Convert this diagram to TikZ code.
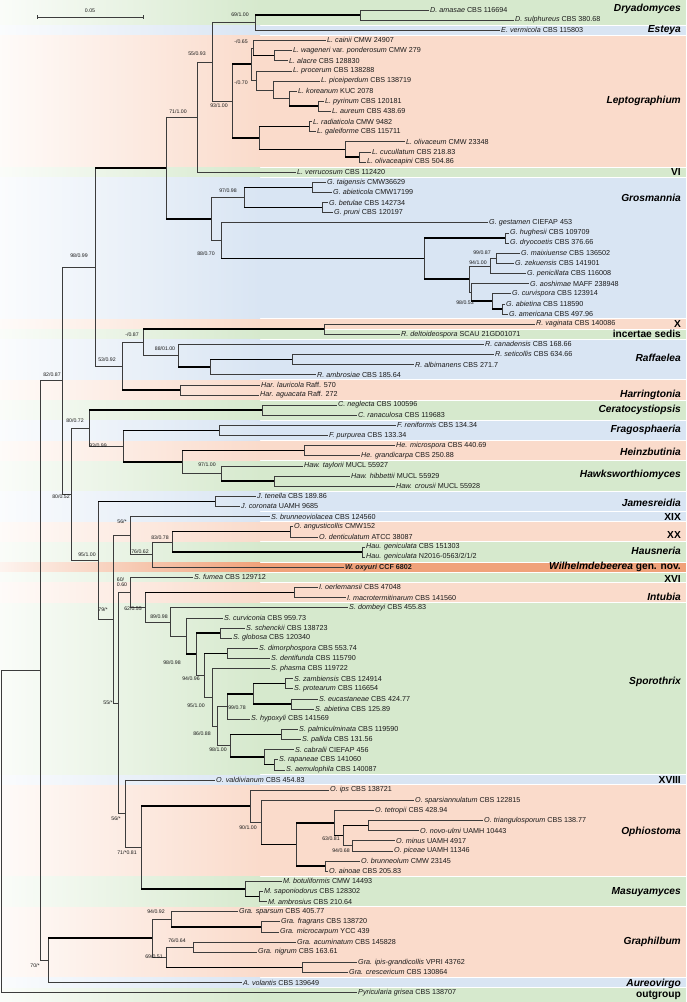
\documentclass[tikz,border=0pt]{standalone}
\usepackage{fontspec}
\setmainfont{Liberation Sans}
\usetikzlibrary{calc}
\definecolor{BandGreen}{HTML}{D6E9CD}
\definecolor{BandBlue}{HTML}{D9E5F3}
\definecolor{BandSalmon}{HTML}{FADBCB}
\definecolor{BandOrange}{HTML}{F0A27A}
\definecolor{Branch}{HTML}{3C3C3C}
\definecolor{Ink}{HTML}{1A1A1A}

% tip: name, row, x of tip, label
\newcommand\leaf[4]{%
  \coordinate (#1) at (#3,{10+10.13*#2});
  \node[tiplab] (#1-t) at (#1) {#4};}
% internal node: name, x, upper child, lower child, style of upper and lower branch
\newcommand\clade[6]{%
  \path let \p1=(#3), \p2=(#4) in coordinate (#1) at ({#2pt},{0.5*(\y1)+0.5*(\y2)});
  \draw[br] (#3 -| #1) -- (#4 -| #1);
  \draw[br,#5] (#3 -| #1) -- (#3);
  \draw[br,#6] (#4 -| #1) -- (#4);}
% coloured band: first row, last row, colour
\newcommand\band[3]{%
  \pgfmathsetmacro\bandtop{#1==0 ? 0 : 15.565+10.13*(#1-1)}%
  \pgfmathsetmacro\bandbot{#2==97 ? 1002 : 14.565+10.13*#2}%
  \shade[left color=#3!12!white, right color=#3] (0,\bandtop) rectangle (260,\bandbot);
  \fill[#3] (259.5,\bandtop) rectangle (686,\bandbot);}

\begin{document}
\begin{tikzpicture}[x=1pt,y=-1pt,
  br/.style={draw=Branch, line width=0.5pt},
  hb/.style={draw=black, line width=1.5pt},
  tiplab/.style={anchor=west, inner sep=1pt, text=Ink, font=\fontsize{7.2}{8}\selectfont},
  suplab/.style={inner sep=0pt, text=Ink, font=\fontsize{5.2}{5.6}\selectfont},
  genlab/.style={anchor=east, inner sep=0pt, text=black, font=\fontsize{10.2}{11}\selectfont\bfseries\itshape},
  romlab/.style={anchor=east, inner sep=0pt, text=black, font=\fontsize{10.2}{11}\selectfont\bfseries}]
\useasboundingbox (0,0) rectangle (686,1002);
\fill[white] (0,0) rectangle (686,1002);

% bands
\band{0}{1}{BandGreen}
\band{2}{2}{BandBlue}
\band{3}{15}{BandSalmon}
\band{16}{16}{BandGreen}
\band{17}{30}{BandBlue}
\band{31}{31}{BandSalmon}
\band{32}{32}{BandGreen}
\band{33}{36}{BandBlue}
\band{37}{38}{BandSalmon}
\band{39}{40}{BandGreen}
\band{41}{42}{BandBlue}
\band{43}{44}{BandSalmon}
\band{45}{47}{BandGreen}
\band{48}{49}{BandBlue}
\band{50}{50}{BandBlue}
\band{51}{52}{BandSalmon}
\band{53}{54}{BandGreen}
\band{55}{55}{BandOrange}
\band{56}{56}{BandGreen}
\band{57}{58}{BandSalmon}
\band{59}{75}{BandGreen}
\band{76}{76}{BandBlue}
\band{77}{85}{BandSalmon}
\band{86}{88}{BandGreen}
\band{89}{95}{BandSalmon}
\band{96}{96}{BandBlue}
\band{97}{97}{BandGreen}

% scale bar
\coordinate (sbL) at (37,17);
\coordinate (sbR) at (143,17);
\draw[br] (sbL) -- (sbR);
\draw[br] ($(sbL)+(0,-2)$) -- ($(sbL)+(0,2)$);
\draw[br] ($(sbR)+(0,-2)$) -- ($(sbR)+(0,2)$);
\node[suplab] (sbLab) at ($(sbL)!0.5!(sbR)+(0,-6)$) {0.05};

% tips
\leaf{amasae}{0}{429}{\textit{D. amasae} CBS 116694}
\leaf{sulphureus}{1}{514}{\textit{D. sulphureus} CBS 380.68}
\leaf{vermicola}{2}{500}{\textit{E. vermicola} CBS 115803}
\leaf{cainii}{3}{326}{\textit{L. cainii} CMW 24907}
\leaf{wageneri}{4}{292}{\textit{L. wageneri} var. \textit{ponderosum} CMW 279}
\leaf{alacre}{5}{288}{\textit{L. alacre} CBS 128830}
\leaf{procerum}{6}{292}{\textit{L. procerum} CBS 138288}
\leaf{piceiperdum}{7}{320}{\textit{L. piceiperdum} CBS 138719}
\leaf{koreanum}{8}{297}{\textit{L. koreanum} KUC 2078}
\leaf{pyrinum}{9}{324}{\textit{L. pyrinum} CBS 120181}
\leaf{aureum}{10}{331}{\textit{L. aureum} CBS 438.69}
\leaf{radiaticola}{11}{312}{\textit{L. radiaticola} CMW 9482}
\leaf{galeiforme}{12}{316}{\textit{L. galeiforme} CBS 115711}
\leaf{olivaceum}{13}{405}{\textit{L. olivaceum} CMW 23348}
\leaf{cucullatum}{14}{371}{\textit{L. cucullatum} CBS 218.83}
\leaf{olivaceapini}{15}{366}{\textit{L. olivaceapini} CBS 504.86}
\leaf{verrucosum}{16}{296}{\textit{L. verrucosum} CBS 112420}
\leaf{taigensis}{17}{326}{\textit{G. taigensis} CMW36629}
\leaf{abieticola}{18}{332}{\textit{G. abieticola} CMW17199}
\leaf{betulae}{19}{328}{\textit{G. betulae} CBS 142734}
\leaf{pruni}{20}{333}{\textit{G. pruni} CBS 120197}
\leaf{gestamen}{21}{488}{\textit{G. gestamen} CIEFAP 453}
\leaf{hughesii}{22}{509}{\textit{G. hughesii} CBS 109709}
\leaf{dryocoetis}{23}{509}{\textit{G. dryocoetis} CBS 376.66}
\leaf{maixiuense}{24}{520}{\textit{G. maixiuense} CBS 136502}
\leaf{zekuensis}{25}{514}{\textit{G. zekuensis} CBS 141901}
\leaf{penicillata}{26}{526}{\textit{G. penicillata} CBS 116008}
\leaf{aoshimae}{27}{529}{\textit{G. aoshimae} MAFF 238948}
\leaf{curvispora}{28}{511}{\textit{G. curvispora} CBS 123914}
\leaf{abietinaG}{29}{505}{\textit{G. abietina} CBS 118590}
\leaf{americana}{30}{508}{\textit{G. americana} CBS 497.96}
\leaf{vaginata}{31}{535}{\textit{R. vaginata} CBS 140086}
\leaf{deltoideospora}{32}{400}{\textit{R. deltoideospora} SCAU 21GD01071}
\leaf{canadensis}{33}{484}{\textit{R. canadensis} CBS 168.66}
\leaf{seticollis}{34}{494}{\textit{R. seticollis} CBS 634.66}
\leaf{albimanens}{35}{414}{\textit{R. albimanens} CBS 271.7}
\leaf{ambrosiae}{36}{316}{\textit{R. ambrosiae} CBS 185.64}
\leaf{lauricola}{37}{260}{\textit{Har. lauricola} Raff. 570}
\leaf{aguacata}{38}{259}{\textit{Har. aguacata} Raff. 272}
\leaf{neglecta}{39}{337}{\textit{C. neglecta} CBS 100596}
\leaf{ranaculosa}{40}{357}{\textit{C. ranaculosa} CBS 119683}
\leaf{reniformis}{41}{396}{\textit{F. reniformis} CBS 134.34}
\leaf{purpurea}{42}{328}{\textit{F. purpurea} CBS 133.34}
\leaf{microspora}{43}{395}{\textit{He. microspora} CBS 440.69}
\leaf{grandicarpa}{44}{360}{\textit{He. grandicarpa} CBS 250.88}
\leaf{taylorii}{45}{303}{\textit{Haw. taylorii} MUCL 55927}
\leaf{hibbettii}{46}{350}{\textit{Haw. hibbettii} MUCL 55929}
\leaf{crousii}{47}{395}{\textit{Haw. crousii} MUCL 55928}
\leaf{tenella}{48}{256}{\textit{J. tenella} CBS 189.86}
\leaf{coronata}{49}{240}{\textit{J. coronata} UAMH 9685}
\leaf{brunneoviolacea}{50}{270}{\textit{S. brunneoviolacea} CBS 124560}
\leaf{angusticollis}{51}{293}{\textit{O. angusticollis} CMW152}
\leaf{denticulatum}{52}{318}{\textit{O. denticulatum} ATCC 38087}
\leaf{genicA}{53}{365}{\textit{Hau. geniculata} CBS 151303}
\leaf{genicB}{54}{365}{\textit{Hau. geniculata} N2016-0563/2/1/2}
\leaf{oxyuri}{55}{344}{\bfseries\textit{W. oxyuri} CCF 6802}
\leaf{fumea}{56}{193}{\textit{S. fumea} CBS 129712}
\leaf{oerlemansii}{57}{318}{\textit{I. oerlemansii} CBS 47048}
\leaf{macrotermitinarum}{58}{346}{\textit{I. macrotermitinarum} CBS 141560}
\leaf{dombeyi}{59}{348}{\textit{S. dombeyi} CBS 455.83}
\leaf{curviconia}{60}{223}{\textit{S. curviconia} CBS 959.73}
\leaf{schenckii}{61}{245}{\textit{S. schenckii} CBS 138723}
\leaf{globosa}{62}{232}{\textit{S. globosa} CBS 120340}
\leaf{dimorphospora}{63}{258}{\textit{S. dimorphospora} CBS 553.74}
\leaf{dentifunda}{64}{270}{\textit{S. dentifunda} CBS 115790}
\leaf{phasma}{65}{270}{\textit{S. phasma} CBS 119722}
\leaf{zambiensis}{66}{293}{\textit{S. zambiensis} CBS 124914}
\leaf{protearum}{67}{293}{\textit{S. protearum} CBS 116654}
\leaf{eucastaneae}{68}{318}{\textit{S. eucastaneae} CBS 424.77}
\leaf{abietinaS}{69}{314}{\textit{S. abietina} CBS 125.89}
\leaf{hypoxyli}{70}{250}{\textit{S. hypoxyli} CBS 141569}
\leaf{palmiculminata}{71}{298}{\textit{S. palmiculminata} CBS 119590}
\leaf{pallida}{72}{301}{\textit{S. pallida} CBS 131.56}
\leaf{cabralii}{73}{294}{\textit{S. cabralii} CIEFAP 456}
\leaf{rapaneae}{74}{278}{\textit{S. rapaneae} CBS 141060}
\leaf{aemulophila}{75}{285}{\textit{S. aemulophila} CBS 140087}
\leaf{valdivianum}{76}{215}{\textit{O. valdivianum} CBS 454.83}
\leaf{ips}{77}{329}{\textit{O. ips} CBS 138721}
\leaf{sparsiannulatum}{78}{414}{\textit{O. sparsiannulatum} CBS 122815}
\leaf{tetropii}{79}{374}{\textit{O. tetropii} CBS 428.94}
\leaf{triangulosporum}{80}{483}{\textit{O. triangulosporum} CBS 138.77}
\leaf{novoulmi}{81}{419}{\textit{O. novo-ulmi} UAMH 10443}
\leaf{minus}{82}{395}{\textit{O. minus} UAMH 4917}
\leaf{piceae}{83}{393}{\textit{O. piceae} UAMH 11346}
\leaf{brunneolum}{84}{360}{\textit{O. brunneolum} CMW 23145}
\leaf{ainoae}{85}{328}{\textit{O. ainoae} CBS 205.83}
\leaf{botuliformis}{86}{282}{\textit{M. botuliformis} CMW 14493}
\leaf{saponiodorus}{87}{263}{\textit{M. saponiodorus} CBS 128302}
\leaf{ambrosius}{88}{267}{\textit{M. ambrosius} CBS 210.64}
\leaf{sparsum}{89}{238}{\textit{Gra. sparsum} CBS 405.77}
\leaf{fragrans}{90}{280}{\textit{Gra. fragrans} CBS 138720}
\leaf{microcarpum}{91}{279}{\textit{Gra. microcarpum} YCC 439}
\leaf{acuminatum}{92}{296}{\textit{Gra. acuminatum} CBS 145828}
\leaf{nigrum}{93}{257}{\textit{Gra. nigrum} CBS 163.61}
\leaf{ipisgrand}{94}{357}{\textit{Gra. ipis-grandicollis} VPRI 43762}
\leaf{crescericum}{95}{348}{\textit{Gra. crescericum} CBS 130864}
\leaf{volantis}{96}{242}{\textit{A. volantis} CBS 139649}
\leaf{grisea}{97}{357}{\textit{Pyricularia grisea} CBS 138707}

% Dryadomyces, Esteya, Leptographium
\clade{nD}{360}{amasae}{sulphureus}{}{}
\clade{nDE}{255}{nD}{vermicola}{hb}{}
\clade{nLwa}{274}{wageneri}{alacre}{}{}
\clade{nLca}{253}{cainii}{nLwa}{}{hb}
\clade{nLpa}{318}{pyrinum}{aureum}{}{}
\clade{nLko}{289}{koreanum}{nLpa}{}{hb}
\clade{nLpi}{273}{piceiperdum}{nLko}{}{}
\clade{nLpr}{256}{procerum}{nLpi}{}{}
\clade{nLq}{251}{nLca}{nLpr}{}{}
\clade{nLra}{309}{radiaticola}{galeiforme}{}{}
\clade{nLcu}{359}{cucullatum}{olivaceapini}{}{}
\clade{nLol}{345}{olivaceum}{nLcu}{}{hb}
\clade{nLrg}{259}{nLra}{nLol}{hb}{hb}
\clade{nLep}{232}{nLq}{nLrg}{hb}{hb}
\clade{nDL}{212}{nDE}{nLep}{}{}
\clade{nDLV}{197}{nDL}{verrucosum}{}{}
% Grosmannia
\clade{nGta}{312}{taigensis}{abieticola}{}{}
\clade{nGbe}{322}{betulae}{pruni}{}{}
\clade{nGa}{244}{nGta}{nGbe}{hb}{hb}
\clade{nGhu}{505}{hughesii}{dryocoetis}{}{}
\clade{nGma}{496}{maixiuense}{zekuensis}{}{}
\clade{nGpe}{490}{nGma}{penicillata}{}{}
\clade{nGab}{502}{abietinaG}{americana}{}{}
\clade{nGcu}{492}{curvispora}{nGab}{}{hb}
\clade{nGao}{471}{aoshimae}{nGcu}{}{hb}
\clade{nGmx}{469}{nGpe}{nGao}{}{}
\clade{nGhd}{424}{nGhu}{nGmx}{hb}{hb}
\clade{nGb}{221}{gestamen}{nGhd}{}{hb}
\clade{nGro}{211}{nGa}{nGb}{}{}
\clade{nLG}{166}{nDLV}{nGro}{}{hb}
% Raffaelea, Harringtonia
\clade{nRva}{324}{vaginata}{deltoideospora}{}{}
\clade{nRse}{292}{seticollis}{albimanens}{}{}
\clade{nRsa}{210}{nRse}{ambrosiae}{hb}{}
\clade{nRaf}{178}{canadensis}{nRsa}{}{hb}
\clade{nRall}{143}{nRva}{nRaf}{hb}{}
\clade{nHar}{180}{lauricola}{aguacata}{}{}
\clade{nRH}{122}{nRall}{nHar}{}{hb}
\clade{nUp}{95}{nLG}{nRH}{hb}{}
% Ceratocystiopsis to Hawksworthiomyces
\clade{nCer}{262}{neglecta}{ranaculosa}{}{}
\clade{nFra}{219}{reniformis}{purpurea}{}{}
\clade{nHei}{304}{microspora}{grandicarpa}{}{}
\clade{nHhc}{274}{hibbettii}{crousii}{}{}
\clade{nHaw}{221}{taylorii}{nHhc}{}{hb}
\clade{nHH}{182}{nHei}{nHaw}{hb}{}
\clade{nFHH}{123}{nFra}{nHH}{hb}{hb}
\clade{nCFH}{89}{nCer}{nFHH}{hb}{}
% Jamesreidia to Hausneria
\clade{nJam}{215}{tenella}{coronata}{}{}
\clade{nXX}{290}{angusticollis}{denticulatum}{}{}
\clade{nHau}{362}{genicA}{genicB}{}{}
\clade{nXXH}{172}{nXX}{nHau}{hb}{hb}
\clade{nWil}{152}{nXXH}{oxyuri}{}{}
\clade{nXIX}{130}{brunneoviolacea}{nWil}{}{}
% Intubia, Sporothrix
\clade{nInt}{294}{oerlemansii}{macrotermitinarum}{}{}
\clade{nSsg}{220}{schenckii}{globosa}{}{}
\clade{nSdd}{227}{dimorphospora}{dentifunda}{}{}
\clade{nSzp}{285}{zambiensis}{protearum}{}{}
\clade{nSea}{291}{eucastaneae}{abietinaS}{}{}
\clade{nSze}{253}{nSzp}{nSea}{hb}{hb}
\clade{nShy}{227}{nSze}{hypoxyli}{hb}{}
\clade{nSpp}{281}{palmiculminata}{pallida}{}{}
\clade{nSra}{274}{rapaneae}{aemulophila}{}{}
\clade{nSca}{264}{cabralii}{nSra}{}{hb}
\clade{nSpc}{230}{nSpp}{nSca}{hb}{hb}
\clade{nSlow}{217}{nShy}{nSpc}{}{}
\clade{nSph}{212}{phasma}{nSlow}{}{}
\clade{nSdp}{204}{nSdd}{nSph}{hb}{}
\clade{nSsd}{196}{nSsg}{nSdp}{hb}{}
\clade{nScu}{186}{curviconia}{nSsd}{}{hb}
\clade{nSpo}{170}{dombeyi}{nScu}{}{}
\clade{nIS}{145}{nInt}{nSpo}{hb}{}
\clade{nXVI}{130}{fumea}{nIS}{}{}
% Ophiostoma, Masuyamyces
\clade{nOtn}{368}{triangulosporum}{novoulmi}{}{}
\clade{nOmp}{352}{minus}{piceae}{}{}
\clade{nOtm}{343}{nOtn}{nOmp}{hb}{}
\clade{nOte}{334}{tetropii}{nOtm}{}{hb}
\clade{nOba}{325}{brunneolum}{ainoae}{}{}
\clade{nOtb}{296}{nOte}{nOba}{hb}{hb}
\clade{nOsp}{261}{sparsiannulatum}{nOtb}{}{hb}
\clade{nOph}{250}{ips}{nOsp}{}{}
\clade{nMsa}{259}{saponiodorus}{ambrosius}{}{}
\clade{nMas}{245}{botuliformis}{nMsa}{}{hb}
\clade{nOM}{141}{nOph}{nMas}{hb}{hb}
\clade{nXVIII}{125}{valdivianum}{nOM}{}{}
\clade{nLowS}{118}{nXVI}{nXVIII}{}{}
\clade{nLow}{113}{nXIX}{nLowS}{}{}
\clade{nJL}{98}{nJam}{nLow}{hb}{}
\clade{nMid}{71}{nCFH}{nJL}{}{}
\clade{nUM}{62}{nUp}{nMid}{}{}
% Graphilbum, Aureovirgo
\clade{nGfm}{261}{fragrans}{microcarpum}{}{}
\clade{nGsp}{171}{sparsum}{nGfm}{}{hb}
\clade{nGan}{193}{acuminatum}{nigrum}{}{}
\clade{nGic}{302}{ipisgrand}{crescericum}{}{}
\clade{nGin}{166}{nGan}{nGic}{}{hb}
\clade{nGra}{152}{nGsp}{nGin}{}{}
\clade{nGA}{48}{nGra}{volantis}{hb}{}
% ingroup and root
\clade{nIn}{40}{nUM}{nGA}{}{}
\clade{nRoot}{1.5}{nIn}{grisea}{}{}

% support values
\node[suplab] (s01) at (240,15) {69/1.00};
\node[suplab] (s02) at (197,54) {55/0.93};
\node[suplab] (s03) at (241,42) {-/0.65};
\node[suplab] (s04) at (241,83) {-/0.70};
\node[suplab] (s05) at (219,106) {93/1.00};
\node[suplab] (s06) at (178,112) {71/1.00};
\node[suplab] (s07) at (228,191) {97/0.98};
\node[suplab] (s08) at (206,254) {88/0.70};
\node[suplab] (s09) at (482,253) {99/0.87};
\node[suplab] (s10) at (478,263) {94/1.00};
\node[suplab] (s11) at (465,303) {98/0.53};
\node[suplab] (s12) at (79,256) {98/0.99};
\node[suplab] (s13) at (132,335) {-/0.87};
\node[suplab] (s14) at (165,349) {88/01.00};
\node[suplab] (s15) at (107,360) {53/0.92};
\node[suplab] (s16) at (52,375) {82/0.87};
\node[suplab] (s17) at (75,421) {80/0.72};
\node[suplab] (s18) at (98,446) {93/0.99};
\node[suplab] (s19) at (207,465) {97/1.00};
\node[suplab] (s20) at (61,497) {80/0.52};
\node[suplab] (s21) at (122,522) {56/*};
\node[suplab] (s22) at (160,538) {83/0.78};
\node[suplab] (s23) at (140,552) {76/0.62};
\node[suplab] (s24) at (87,555) {95/1.00};
\node[suplab, align=left] (s25) at (122,582) {60/\\0.60};
\node[suplab] (s26) at (103,610) {79/*};
\node[suplab] (s27) at (133,609) {62/0.55};
\node[suplab] (s28) at (159,617) {89/0.98};
\node[suplab] (s29) at (172,663) {98/0.98};
\node[suplab] (s30) at (191,679) {94/0.96};
\node[suplab] (s31) at (108,703) {55/*};
\node[suplab] (s32) at (196,706) {95/1.00};
\node[suplab] (s33) at (237,708) {99/0.78};
\node[suplab] (s34) at (202,734) {86/0.88};
\node[suplab] (s35) at (218,750) {98/1.00};
\node[suplab] (s36) at (116,819) {56/*};
\node[suplab] (s37) at (248,828) {90/1.00};
\node[suplab] (s38) at (331,839) {63/0.81};
\node[suplab] (s39) at (341,851) {94/0.68};
\node[suplab] (s40) at (127,853) {71/*0.81};
\node[suplab] (s41) at (156,912) {94/0.92};
\node[suplab] (s42) at (177,941) {76/0.64};
\node[suplab] (s43) at (154,957) {69/0.51};
\node[suplab] (s44) at (35,966) {70/*};

% clade names
\node[genlab] (cDry) at (681,9) {Dryadomyces};
\node[genlab] (cEst) at (681,30) {Esteya};
\node[genlab] (cLep) at (681,101) {Leptographium};
\node[romlab] (cVI) at (681,172) {VI};
\node[genlab] (cGro) at (681,198) {Grosmannia};
\node[romlab] (cX) at (681,324) {X};
\node[romlab] (cInc) at (681,334) {incertae sedis};
\node[genlab] (cRaf) at (681,358) {Raffaelea};
\node[genlab] (cHar) at (681,395) {Harringtonia};
\node[genlab] (cCer) at (681,410) {Ceratocystiopsis};
\node[genlab] (cFra) at (681,430) {Fragosphaeria};
\node[genlab] (cHei) at (681,452) {Heinzbutinia};
\node[genlab] (cHaw) at (681,475) {Hawksworthiomyces};
\node[genlab] (cJam) at (681,503) {Jamesreidia};
\node[romlab] (cXIX) at (681,517) {XIX};
\node[romlab] (cXX) at (681,535) {XX};
\node[genlab] (cHau) at (681,551) {Hausneria};
\node[romlab] (cWil) at (681,567) {\textit{Wilhelmdebeerea} gen. nov.};
\node[romlab] (cXVI) at (681,579) {XVI};
\node[genlab] (cInt) at (681,597) {Intubia};
\node[genlab] (cSpo) at (681,682) {Sporothrix};
\node[romlab] (cXVIII) at (681,780) {XVIII};
\node[genlab] (cOph) at (681,832) {Ophiostoma};
\node[genlab] (cMas) at (681,892) {Masuyamyces};
\node[genlab] (cGra) at (681,942) {Graphilbum};
\node[genlab] (cAur) at (681,984) {Aureovirgo};
\node[romlab] (cOut) at (681,995) {outgroup};
\end{tikzpicture}
\end{document}
